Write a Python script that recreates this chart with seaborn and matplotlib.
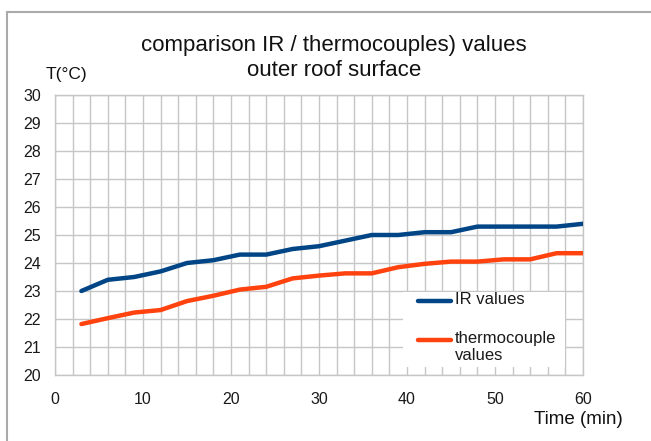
import numpy as np
import pandas as pd
import matplotlib
matplotlib.use('Agg')
import matplotlib.pyplot as plt
import seaborn as sns
from matplotlib.patches import Rectangle
from matplotlib.lines import Line2D

# values
time_min = [3, 6, 9, 12, 15, 18, 21, 24, 27, 30, 33, 36, 39, 42, 45, 48, 51, 54, 57, 60]
ir_values = [23.0, 23.4, 23.5, 23.7, 24.0, 24.1, 24.3, 24.3, 24.5, 24.6,
             24.8, 25.0, 25.0, 25.1, 25.1, 25.3, 25.3, 25.3, 25.3, 25.4]
tc_values = [21.82, 22.03, 22.23, 22.32, 22.64, 22.83, 23.05, 23.15, 23.45, 23.55,
             23.63, 23.63, 23.85, 23.97, 24.05, 24.05, 24.13, 24.13, 24.35, 24.35]
series_names = ['IR values', 'thermocouple\nvalues']
series_colors = ['#004586', '#ff420e']

df = pd.DataFrame({'Time': time_min * 2,
                   'T': ir_values + tc_values,
                   'series': [series_names[0]] * len(time_min) + [series_names[1]] * len(time_min)})

sns.set_theme(style='white')
plt.rcParams['font.family'] = ['Liberation Sans', 'DejaVu Sans']

W, H = 651, 441
fig = plt.figure(figsize=(W / 100, H / 100), dpi=100)
ax = fig.add_axes([55 / W, 1 - 375 / H, 528 / W, 280 / H])

grid_col = '#c6c6c6'
sns.lineplot(data=df, x='Time', y='T', hue='series', palette=series_colors,
             linewidth=3.2, ax=ax, legend=False, zorder=3)

ax.set_xlim(0, 60)
ax.set_ylim(20, 30)
ax.set_xticks(np.arange(0, 61, 10))
ax.set_xticks(np.arange(0, 61, 2), minor=True)
ax.set_yticks(np.arange(20, 31, 1))
ax.grid(True, which='both', axis='x', color=grid_col, linewidth=1)
ax.grid(True, which='major', axis='y', color=grid_col, linewidth=1)
ax.set_axisbelow(True)
for s in ax.spines.values():
    s.set_color(grid_col)
    s.set_linewidth(1)
ax.tick_params(axis='both', which='major', direction='out', length=5, width=1,
               color=grid_col, labelsize=11.5, pad=5, labelcolor='#1a1a1a')
ax.tick_params(axis='x', which='major', pad=7)
ax.tick_params(axis='x', which='minor', length=0)
ax.set_xlabel('')
ax.set_ylabel('')

# legend: white area covering the grid, handles and labels (pixel -> axes fraction)
def ax_x(px):
    return (px - 55) / 528

def ax_y(py):
    return (375 - py) / 280

ax.add_patch(Rectangle((ax_x(403), ax_y(367)), ax_x(565) - ax_x(403), ax_y(292) - ax_y(367),
                       transform=ax.transAxes, facecolor='white', edgecolor='none', zorder=2))
leg_rows = [301, 340]
for name, col, py in zip(series_names, series_colors, leg_rows):
    ax.add_line(Line2D([ax_x(418), ax_x(451)], [ax_y(py), ax_y(py)], transform=ax.transAxes,
                       color=col, linewidth=3.2, solid_capstyle='round', zorder=4))
    # top of the text box sits just above the handle so the first line lines up with it
    ax.text(ax_x(455), ax_y(py - 9), name, transform=ax.transAxes, ha='left', va='top',
            fontsize=12, color='#1a1a1a', linespacing=1.15, zorder=4)

fig.text(334 / W, 1 - 45 / H, 'comparison IR / thermocouples) values',
         ha='center', va='center', fontsize=16, color='#111111')
fig.text(334 / W, 1 - 70 / H, 'outer roof surface',
         ha='center', va='center', fontsize=16, color='#111111')
fig.text(46 / W, 1 - 74 / H, 'T(°C)', ha='left', va='center', fontsize=12.5, color='#111111')
fig.text(623 / W, 1 - 420 / H, 'Time (min)', ha='right', va='center', fontsize=13.5, color='#111111')

# outer chart frame (left and top edges visible)
frame_col = '#aaaaaa'
fig.add_artist(Line2D([7 / W, 1], [1 - 12 / H, 1 - 12 / H], transform=fig.transFigure,
                      color=frame_col, linewidth=1.5))
fig.add_artist(Line2D([7 / W, 7 / W], [0, 1 - 12 / H], transform=fig.transFigure,
                      color=frame_col, linewidth=1.5))

fig.savefig('out.png', dpi=100)
